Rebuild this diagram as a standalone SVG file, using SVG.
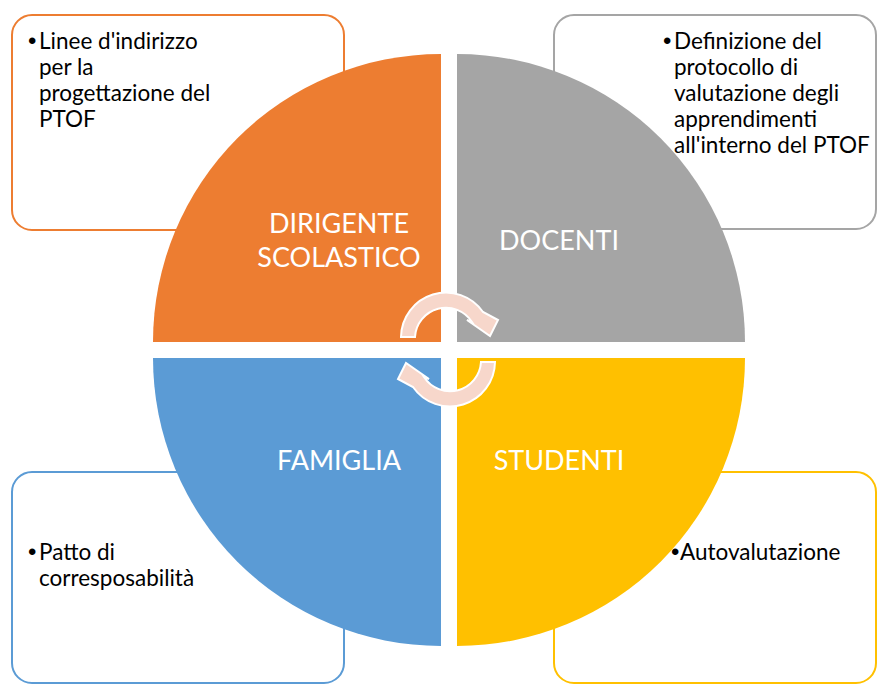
<svg xmlns="http://www.w3.org/2000/svg" width="877" height="684" viewBox="0 0 877 684">
<style>
.box{fill:#fff;stroke-width:2}
.txt{font-family:Lato,"Open Sans",sans-serif;font-size:22.5px;fill:#000}
.bul{font-family:"Liberation Sans",Arial,sans-serif;font-size:24px;fill:#000}
.lbl{font-family:Lato,"Open Sans",sans-serif;font-size:27px;fill:#fff;text-anchor:middle}
.arr{fill:#F7D7CB;stroke:#fff;stroke-width:2;stroke-linejoin:miter}
</style>
<rect width="877" height="684" fill="#fff"/>
<g id="box-dirigente">
<rect class="box" x="12" y="15" width="332" height="215" rx="20" stroke="#ED7D31"/>
<text class="bul" x="28" y="49">•</text>
<text class="txt" x="39" y="49">Linee d'indirizzo</text>
<text class="txt" x="39" y="75">per la</text>
<text class="txt" x="39" y="101">progettazione del</text>
<text class="txt" x="39" y="127">PTOF</text>
</g>
<g id="box-docenti">
<rect class="box" x="554" y="15" width="322" height="214" rx="20" stroke="#A5A5A5"/>
<text class="bul" x="663" y="49">•</text>
<text class="txt" x="674" y="49">Definizione del</text>
<text class="txt" x="674" y="75">protocollo di</text>
<text class="txt" x="674" y="101">valutazione degli</text>
<text class="txt" x="674" y="127">apprendimenti</text>
<text class="txt" x="674" y="153">all'interno del PTOF</text>
</g>
<g id="box-famiglia">
<rect class="box" x="12" y="472" width="332" height="211" rx="20" stroke="#5B9BD5"/>
<text class="bul" x="28" y="560">•</text>
<text class="txt" x="39" y="560">Patto di</text>
<text class="txt" x="39" y="586">corresposabilità</text>
</g>
<g id="box-studenti">
<rect class="box" x="554" y="472" width="322" height="211" rx="20" stroke="#FFC000"/>
<text class="bul" x="671" y="560">•</text>
<text class="txt" x="680" y="560">Autovalutazione</text>
</g>
<g id="q-dirigente">
<path d="M441 342 L153 342 A288 288 0 0 1 441 54 Z" fill="#ED7D31"/>
<text class="lbl" x="339" y="233">DIRIGENTE</text>
<text class="lbl" x="339" y="267">SCOLASTICO</text>
</g>
<g id="q-docenti">
<path d="M457 342 L457 54 A288 288 0 0 1 745 342 Z" fill="#A5A5A5"/>
<text class="lbl" x="559" y="250">DOCENTI</text>
</g>
<g id="q-studenti">
<path d="M457 358 L745 358 A288 288 0 0 1 457 646 Z" fill="#FFC000"/>
<text class="lbl" x="559" y="470">STUDENTI</text>
</g>
<g id="q-famiglia">
<path d="M441 358 L441 646 A288 288 0 0 1 153 358 Z" fill="#5B9BD5"/>
<text class="lbl" x="339" y="470">FAMIGLIA</text>
</g>
<g id="connectors">
<path id="arrow-top" class="arr" d="M401 337 A45 45 0 0 1 483 312 L498 320 L490 336 L467 320 L472 322 A31 31 0 0 0 415 337 Z"/>
<path id="arrow-bottom" class="arr" d="M401 337 A45 45 0 0 1 483 312 L498 320 L490 336 L467 320 L472 322 A31 31 0 0 0 415 337 Z" transform="rotate(180 448 349.5)"/>
</g>
</svg>
